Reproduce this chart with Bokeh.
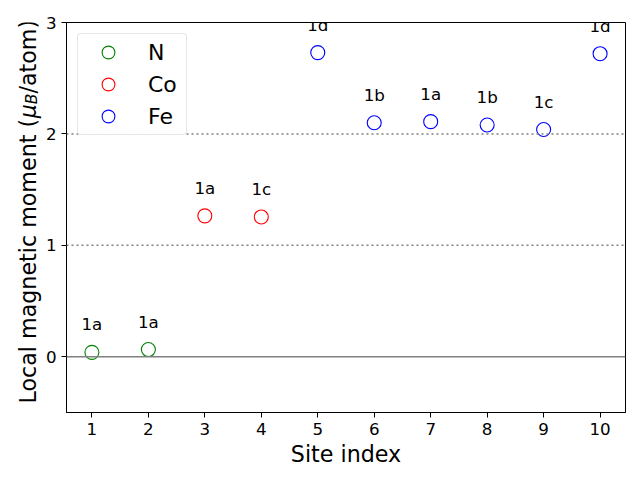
import math
from bokeh.plotting import figure
from bokeh.layouts import row
from bokeh.models import (ColumnDataSource, LabelSet, Span, Legend, LegendItem,
                          FixedTicker, Range1d)
from bokeh.core.properties import value
from bokeh.embed import file_html
from bokeh.resources import INLINE

site_index = [1, 2, 3, 4, 5, 6, 7, 8, 9, 10]
moments = [0.04, 0.065, 1.265, 1.255, 2.73, 2.10, 2.11, 2.08, 2.04, 2.72]
elements = ["N", "N", "Co", "Co", "Fe", "Fe", "Fe", "Fe", "Fe", "Fe"]
wyckoff = ["1a", "1a", "1a", "1c", "1d", "1b", "1a", "1b", "1c", "1d"]
element_order = ["N", "Co", "Fe"]
element_colors = {"N": "green", "Co": "red", "Fe": "blue"}
y_ticks = [0, 1, 2, 3]
x_ticks = site_index
label_offset = 0.25

FONT = "DejaVu Sans"
H = 480
TOP, BOTTOM = 22, 68
LW = 42          # width of the y-label strip
MW = 640 - LW    # width of main figure

p = figure(width=MW, height=H, output_backend="svg", toolbar_location=None,
           x_range=Range1d(0.55, 10.45), y_range=Range1d(-0.5, 3.0),
           min_border_left=65 - LW, min_border_right=15,
           min_border_top=TOP, min_border_bottom=BOTTOM)
p.grid.visible = False
p.outline_line_color = "black"
p.outline_line_width = 1
p.background_fill_color = "white"
p.border_fill_color = "white"

# reference lines
p.add_layout(Span(location=0, dimension="width", line_color="gray", line_width=1.5))
for loc in (1, 2):
    p.add_layout(Span(location=loc, dimension="width", line_color="gray", line_width=1.5,
                      line_dash="2 3"))

items = []
for el in element_order:
    xs = [x for x, e in zip(site_index, elements) if e == el]
    ys = [y for y, e in zip(moments, elements) if e == el]
    r = p.scatter(xs, ys, size=14, marker="circle", fill_color=None,
                  line_color=element_colors[el], line_width=1.1)
    items.append(LegendItem(label=el, renderers=[r]))

src = ColumnDataSource(dict(x=site_index, y=[m + label_offset for m in moments], t=wyckoff))
p.add_layout(LabelSet(x="x", y="y", text="t", source=src, text_align="center",
                      text_baseline="middle", text_font=value(FONT), text_font_size="16.7px",
                      text_color="black"))

legend = Legend(items=items, location="top_left")
legend.label_text_font = FONT
legend.label_text_font_size = "22px"
legend.label_text_color = "black"
legend.border_line_color = "#d0d0d0"
legend.border_line_width = 1
legend.border_radius = 4
legend.margin = 11
legend.padding = 2
legend.spacing = 0
legend.glyph_width = 56
legend.glyph_height = 32
legend.label_standoff = 12
legend.label_height = 32
legend.label_width = 36
p.add_layout(legend)

for ax in (p.xaxis, p.yaxis):
    ax.major_label_text_font = FONT
    ax.major_label_text_font_size = "16.7px"
    ax.major_label_text_color = "black"
    ax.axis_label_text_font = FONT
    ax.axis_label_text_font_size = "22.2px"
    ax.axis_label_text_font_style = "normal"
    ax.axis_label_text_color = "black"
    ax.major_tick_in = 0
    ax.major_tick_out = 5
    ax.minor_tick_line_color = None
    ax.axis_line_color = "black"
    ax.major_tick_line_color = "black"

p.xaxis.ticker = FixedTicker(ticks=x_ticks)
p.yaxis.ticker = FixedTicker(ticks=y_ticks)
p.xaxis.axis_label = "Site index"
p.xaxis.axis_label_standoff = 3

# y-axis label strip: its frame is aligned with the main frame (rows align frames),
# so use a 1:1 pixel range with y = H - (pixels from top)
q = figure(width=LW, height=H, output_backend="svg", toolbar_location=None,
           x_range=Range1d(0, LW), y_range=Range1d(BOTTOM, H - TOP),
           x_axis_location=None, y_axis_location=None,
           min_border_left=0, min_border_right=0,
           min_border_top=TOP, min_border_bottom=BOTTOM)
q.grid.visible = False
q.outline_line_color = None
q.background_fill_color = "white"
q.border_fill_color = "white"

fs = 22.2
sub_fs = fs * 0.7
pieces = [
    ("Local magnetic moment (", fs, "normal", 12.846 * fs, 0),
    ("\u03bc", fs, "italic", 0.636 * fs, 0),
    ("B", sub_fs, "italic", 0.686 * sub_fs, 4),
    ("/atom)", fs, "normal", 3.318 * fs, 0),
]
start_from_top = 403.0
baseline_x = 27.0
for txt, size, style, width, shift in pieces:
    q.text(x=[baseline_x + shift], y=[H - start_from_top], text=[txt],
           angle=math.pi / 2, text_align="left", text_baseline="alphabetic",
           text_font=value(FONT), text_font_size=value(f"{size:.1f}px"),
           text_font_style=value(style), text_color="black")
    start_from_top -= width

layout = row(q, p, spacing=0)
open("out.html", "w").write(file_html(layout, INLINE))
